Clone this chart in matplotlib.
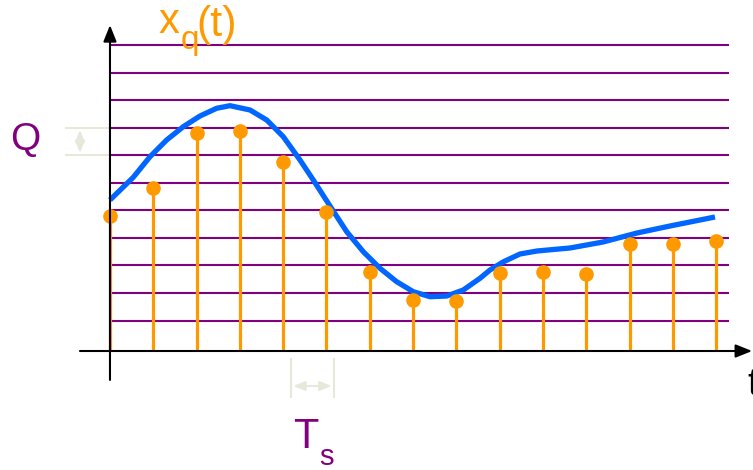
import numpy as np
import matplotlib
matplotlib.use("Agg")
import matplotlib.pyplot as plt

# quantised samples x_q[n] (units of Q), one per sampling period Ts
n = np.arange(15)
xq = [4.90, 5.92, 7.91, 7.99, 6.86, 5.03, 2.87, 1.85, 1.81,
      2.83, 2.87, 2.79, 3.88, 3.88, 3.99]

# analog signal (t in Ts, amplitude in Q)
t_sig = [0.000, 0.538, 0.924, 1.309, 1.693, 2.079, 2.464, 2.771, 3.233,
         3.619, 4.002, 4.388, 4.695, 5.081, 5.467, 5.850, 6.236, 6.621,
         7.005, 7.390, 7.776, 8.159, 8.545, 8.776, 9.076, 9.469, 9.861,
         10.624, 11.386, 12.171, 12.933, 13.972]
x_sig = [5.481, 6.305, 7.053, 7.659, 8.142, 8.530, 8.810, 8.904, 8.748,
         8.385, 7.779, 6.933, 6.207, 5.263, 4.330, 3.604, 3.002, 2.515,
         2.152, 1.971, 1.996, 2.214, 2.639, 2.940, 3.230, 3.521, 3.630,
         3.739, 3.956, 4.283, 4.537, 4.864]

# quantisation levels
levels = 1.107 + np.arange(11)

ORANGE = "#FF9900"
BLUE = "#0066FF"
PURPLE = "#800080"
BEIGE = "#E8E8DA"

plt.rcParams["font.family"] = ["Liberation Sans", "DejaVu Sans"]

fig = plt.figure(figsize=(7.53, 4.70), dpi=100)
ax = fig.add_axes([0, 0, 1, 1])
ax.set_xlim(-2.540, 14.850)
ax.set_ylim(-4.319, 12.740)
ax.axis("off")

# level lines
ax.hlines(levels, 0, 14.3, color=PURPLE, lw=1.5, zorder=1)

# analog signal
ax.plot(t_sig, x_sig, color=BLUE, lw=3.8, solid_capstyle="butt",
        solid_joinstyle="round", zorder=2)

# samples
ax.vlines(n, 0, xq, color=ORANGE, lw=2.3, zorder=3)
ax.plot(n, xq, "o", color=ORANGE, ms=9.5, zorder=4)

# axes with arrows
ax.annotate("", xy=(14.83, 0), xytext=(-0.693, 0),
            arrowprops=dict(arrowstyle="-|>,head_length=0.55,head_width=0.22",
                            color="black", lw=1.5, mutation_scale=18,
                            shrinkA=0, shrinkB=0), zorder=5)
ax.annotate("", xy=(0, 11.83), xytext=(0, -1.05),
            arrowprops=dict(arrowstyle="-|>,head_length=0.55,head_width=0.22",
                            color="black", lw=1.5, mutation_scale=18,
                            shrinkA=0, shrinkB=0), zorder=5)

# Q bracket
ax.hlines([levels[6], levels[7]], -1.04, 0, color=BEIGE, lw=1.5, zorder=0)
ax.annotate("", xy=(-0.693, levels[7] - 0.08), xytext=(-0.693, levels[6] + 0.08),
            arrowprops=dict(arrowstyle="<|-|>,head_length=0.5,head_width=0.2",
                            color=BEIGE, lw=1.5, mutation_scale=14,
                            shrinkA=0, shrinkB=0))
ax.text(-2.31, 7.30, "Q", color=PURPLE, fontsize=28, ha="left", va="baseline")

# Ts bracket
ax.vlines([4.18, 5.17], -1.706, -0.254, color=BEIGE, lw=1.5)
ax.annotate("", xy=(5.12, -1.27), xytext=(4.23, -1.27),
            arrowprops=dict(arrowstyle="<|-|>,head_length=0.5,head_width=0.2",
                            color=BEIGE, lw=1.5, mutation_scale=14,
                            shrinkA=0, shrinkB=0))
ax.text(4.24, -3.52, "T", color=PURPLE, fontsize=30, ha="left", va="baseline")
ax.text(4.83, -4.14, "s", color=PURPLE, fontsize=21, ha="left", va="baseline")

# labels
ax.text(14.73, -1.60, "t", color="black", fontsize=27, ha="left", va="baseline")
ax.text(1.12, 11.55, "x", color=ORANGE, fontsize=30, ha="left", va="baseline")
ax.text(1.63, 10.96, "q", color=ORANGE, fontsize=24, ha="left", va="baseline")
ax.text(2.00, 11.45, "(t)", color=ORANGE, fontsize=31, ha="left", va="baseline")

fig.savefig("out.png", dpi=100)
